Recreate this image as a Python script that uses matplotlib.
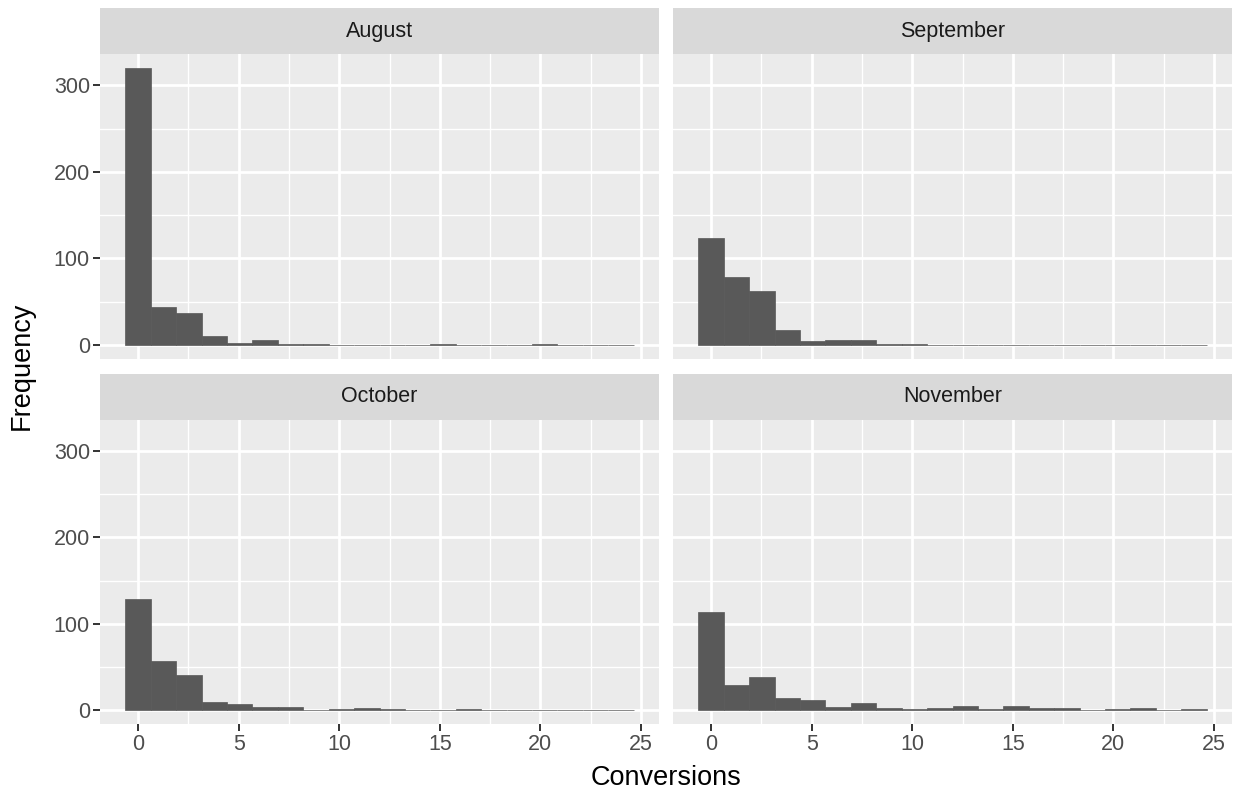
import numpy as np
import matplotlib
matplotlib.use("Agg")
import matplotlib.pyplot as plt

plt.rcParams["font.family"] = ["Liberation Sans", "DejaVu Sans"]

# histogram counts, 20 bins over conversions 0..24 (ggplot bins=20)
months = ["August", "September", "October", "November"]
counts_aug = [320, 44, 37, 10, 3, 6, 1, 1, 0, 0, 0, 0, 1, 0, 0, 0, 1, 0, 0, 0]
counts_sep = [124, 79, 63, 18, 5, 6, 6, 1, 1, 0, 0, 0, 0, 0, 0, 0, 0, 0, 0, 0]
counts_oct = [129, 57, 41, 9, 7, 4, 4, 0, 1, 2, 1, 0, 0, 1, 0, 0, 0, 0, 0, 0]
counts_nov = [114, 29, 38, 14, 12, 4, 8, 2, 1, 2, 5, 1, 5, 3, 2, 0, 1, 3, 0, 1]
data_min, data_max, n_bins = 0, 24, 20
x_ticks = [0, 5, 10, 15, 20, 25]
y_ticks = [0, 100, 200, 300]

all_counts = [counts_aug, counts_sep, counts_oct, counts_nov]

W, H = 1236, 793
fig = plt.figure(figsize=(W / 100, H / 100), dpi=100)

BAR = "#595959"
PANEL = "#EBEBEB"
STRIP = "#D9D9D9"
TXT = "#4D4D4D"

binw = (data_max - data_min) / (n_bins - 1)
edges = data_min - binw / 2 + binw * np.arange(n_bins + 1)
xlo, xhi = edges[0], edges[-1]
xpad = 0.05 * (xhi - xlo)
ymax = max(max(c) for c in all_counts)
ypad = 0.05 * ymax

cols = [(100, 659), (673, 1232)]
rows = [(54, 359, 8), (420, 724, 374)]  # panel top, panel bottom, strip top

for i, (month, cnt) in enumerate(zip(months, all_counts)):
    r, c = divmod(i, 2)
    x0, x1 = cols[c]
    top, bot, stop = rows[r]
    ax = fig.add_axes([x0 / W, 1 - bot / H, (x1 - x0) / W, (bot - top) / H])
    ax.set_facecolor(PANEL)
    ax.bar(edges[:-1], cnt, width=binw, align="edge", color=BAR,
           edgecolor=BAR, linewidth=0.5, zorder=3)
    ax.set_xlim(xlo - xpad, xhi + xpad)
    ax.set_ylim(-ypad, ymax + ypad)
    ax.set_xticks(x_ticks)
    ax.set_xticks([2.5, 7.5, 12.5, 17.5, 22.5], minor=True)
    ax.set_yticks(y_ticks)
    ax.set_yticks([50, 150, 250], minor=True)
    ax.grid(which="major", color="white", lw=2.0, zorder=1)
    ax.grid(which="minor", color="white", lw=1.0, zorder=1)
    for s in ax.spines.values():
        s.set_visible(False)
    ax.tick_params(which="minor", length=0)
    ax.tick_params(which="major", length=4.8, width=1.4, color="#333333",
                   labelsize=15.5, labelcolor=TXT, pad=2.5)
    if c == 1:
        ax.tick_params(axis="y", which="major", length=0, labelleft=False)
    if r == 0:
        ax.tick_params(axis="x", which="major", length=0, labelbottom=False)

    sax = fig.add_axes([x0 / W, 1 - top / H, (x1 - x0) / W, (top - stop) / H])
    sax.set_facecolor(STRIP)
    sax.set_xticks([]); sax.set_yticks([])
    for s in sax.spines.values():
        s.set_visible(False)
    sax.text(0.5, 0.5, month, ha="center", va="center", fontsize=15.5,
             color="#1A1A1A", transform=sax.transAxes)

fig.text(666 / W, 1 - 778 / H, "Conversions", ha="center", va="center",
         fontsize=19.5, color="black")
fig.text(22 / W, 1 - 366 / H, "Frequency", ha="center", va="center",
         fontsize=19.5, color="black", rotation=90)

fig.savefig("out.png", dpi=100)
